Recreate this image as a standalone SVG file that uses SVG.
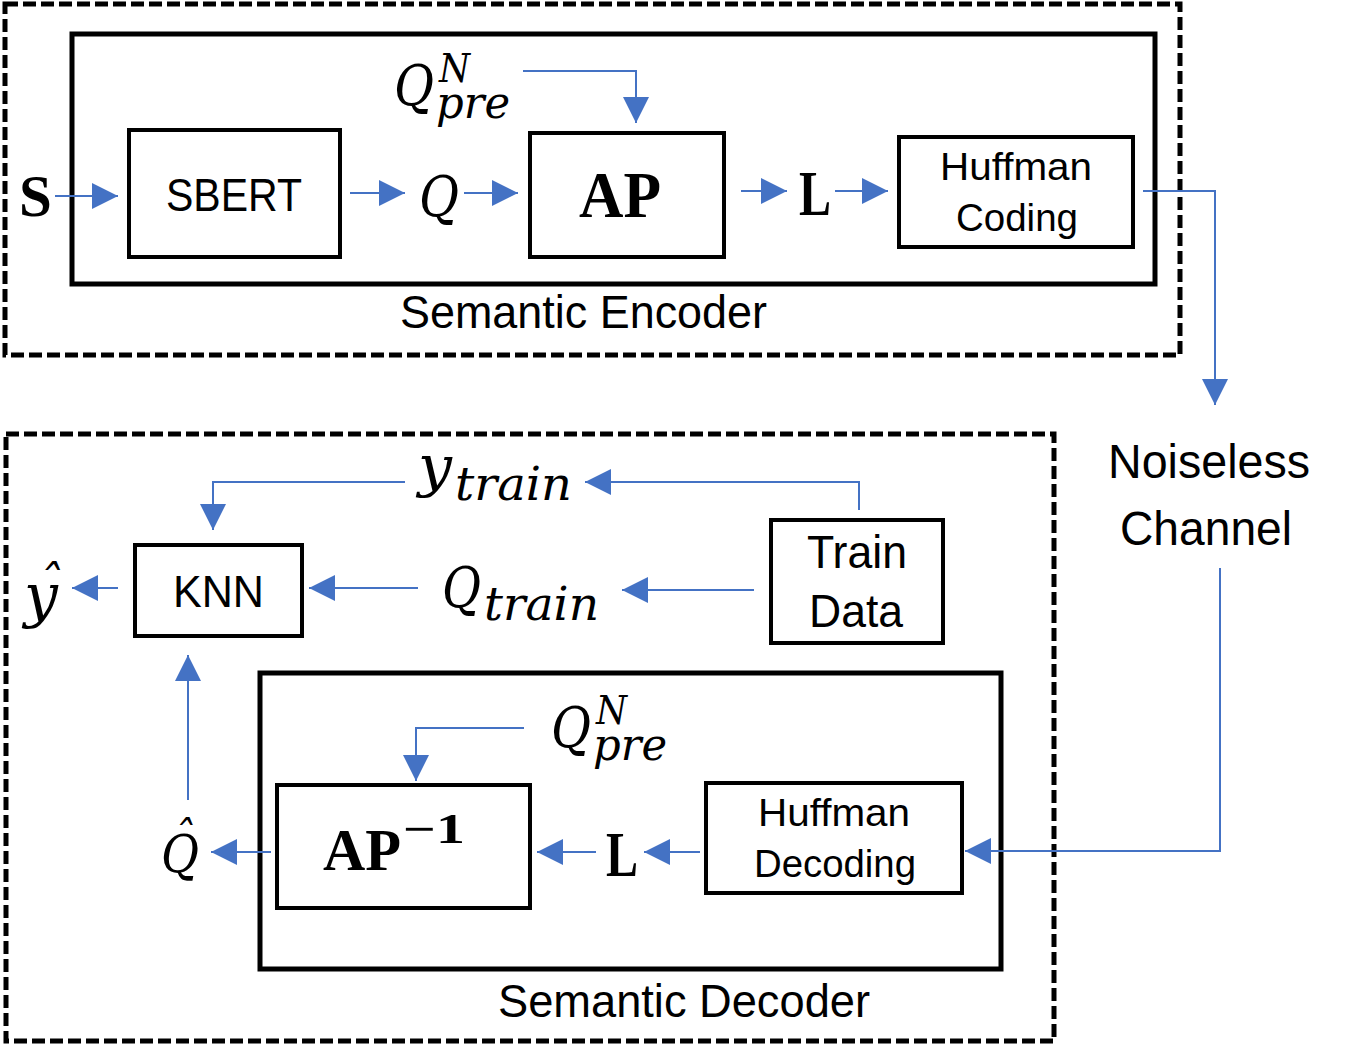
<svg xmlns="http://www.w3.org/2000/svg" width="1358" height="1062" viewBox="0 0 1358 1062">
<style>
.bg{fill:#fff}
.box{fill:none;stroke:#000;stroke-width:4}
.cont{fill:none;stroke:#000;stroke-width:5}
.dash{fill:none;stroke:#000;stroke-width:5;stroke-dasharray:13 5}
.conn{fill:none;stroke:#4472C4;stroke-width:2;marker-end:url(#ah)}
.lbl{font-family:"Liberation Sans",Arial,sans-serif;fill:#000;text-anchor:middle}
.math{font-family:"DejaVu Serif",serif;font-style:italic;fill:#000}
.bold{font-family:"Liberation Serif",serif;font-weight:bold;fill:#000}
</style>
<defs>
<marker id="ah" markerUnits="userSpaceOnUse" viewBox="0 0 26 26" markerWidth="26" markerHeight="26" refX="26" refY="13" orient="auto">
<path d="M0,0 L26,13 L0,26 Z" fill="#4472C4"/>
</marker>
</defs>
<rect class="bg" x="0" y="0" width="1358" height="1062"/>

<g id="semantic-encoder">
<rect class="dash" x="5" y="4" width="1175" height="351"/>
<rect class="cont" x="72" y="34" width="1083" height="250"/>
<text class="lbl" x="583.5" y="328" font-size="46" textLength="367" lengthAdjust="spacingAndGlyphs">Semantic Encoder</text>
</g>

<g id="input-S"><text class="bold" x="19" y="216" font-size="59">S</text></g>

<g id="sbert">
<rect class="box" x="129" y="130" width="211" height="127"/>
<text class="lbl" x="234" y="211" font-size="46" textLength="136" lengthAdjust="spacingAndGlyphs">SBERT</text>
</g>

<g id="Q-top"><text class="math" x="419" y="216" font-size="56" textLength="40" lengthAdjust="spacingAndGlyphs">Q</text></g>

<g id="Qpre-top">
<text class="math"><tspan x="394" y="105" font-size="56" textLength="40" lengthAdjust="spacingAndGlyphs">Q</tspan><tspan x="439" y="82" font-size="40" textLength="31" lengthAdjust="spacingAndGlyphs">N</tspan><tspan x="436" y="118" font-size="44" textLength="74" lengthAdjust="spacingAndGlyphs">pre</tspan></text>
</g>

<g id="ap">
<rect class="box" x="530" y="133" width="194" height="124"/>
<text class="bold" x="579" y="217" font-size="66" textLength="82" lengthAdjust="spacingAndGlyphs">AP</text>
</g>

<g id="L-top"><text class="bold" x="799" y="215" font-size="64" textLength="32" lengthAdjust="spacingAndGlyphs">L</text></g>

<g id="huffman-coding">
<rect class="box" x="899" y="137" width="234" height="110"/>
<text class="lbl" x="1016" y="180" font-size="39" textLength="152" lengthAdjust="spacingAndGlyphs">Huffman</text>
<text class="lbl" x="1017" y="231" font-size="39" textLength="122" lengthAdjust="spacingAndGlyphs">Coding</text>
</g>

<g id="noiseless-channel">
<text class="lbl" x="1209" y="478" font-size="49" textLength="202" lengthAdjust="spacingAndGlyphs">Noiseless</text>
<text class="lbl" x="1206" y="545" font-size="49" textLength="172" lengthAdjust="spacingAndGlyphs">Channel</text>
</g>

<g id="semantic-decoder">
<rect class="dash" x="6" y="434" width="1048" height="607"/>
<rect class="cont" x="260" y="673" width="741" height="296"/>
<text class="lbl" x="684" y="1017" font-size="46" textLength="372" lengthAdjust="spacingAndGlyphs">Semantic Decoder</text>
</g>

<g id="train-data">
<rect class="box" x="771" y="520" width="172" height="123"/>
<text class="lbl" x="857" y="568" font-size="46" textLength="100" lengthAdjust="spacingAndGlyphs">Train</text>
<text class="lbl" x="856" y="627" font-size="46" textLength="94" lengthAdjust="spacingAndGlyphs">Data</text>
</g>

<g id="y-train">
<text class="math"><tspan x="418" y="486" font-size="56" textLength="34" lengthAdjust="spacingAndGlyphs">y</tspan><tspan x="455" y="500" font-size="46" textLength="117" lengthAdjust="spacingAndGlyphs">train</tspan></text>
</g>

<g id="Q-train">
<text class="math"><tspan x="442" y="607" font-size="56" textLength="39" lengthAdjust="spacingAndGlyphs">Q</tspan><tspan x="484" y="620" font-size="46" textLength="115" lengthAdjust="spacingAndGlyphs">train</tspan></text>
</g>

<g id="knn">
<rect class="box" x="135" y="545" width="167" height="91"/>
<text class="lbl" x="218.5" y="607" font-size="45" textLength="91" lengthAdjust="spacingAndGlyphs">KNN</text>
</g>

<g id="y-hat">
<text class="math"><tspan x="24" y="616" font-size="60">y</tspan><tspan x="49" y="600" font-size="48" text-anchor="middle">ˆ</tspan></text>
</g>

<g id="Qpre-bottom">
<text class="math"><tspan x="551" y="747" font-size="56" textLength="40" lengthAdjust="spacingAndGlyphs">Q</tspan><tspan x="596" y="724" font-size="40" textLength="31" lengthAdjust="spacingAndGlyphs">N</tspan><tspan x="593" y="760" font-size="44" textLength="74" lengthAdjust="spacingAndGlyphs">pre</tspan></text>
</g>

<g id="ap-inverse">
<rect class="box" x="277" y="785" width="253" height="123"/>
<text class="bold"><tspan x="323" y="870" font-size="60" textLength="78" lengthAdjust="spacingAndGlyphs">AP</tspan><tspan x="403" y="843" font-size="42" textLength="62" lengthAdjust="spacingAndGlyphs">−1</tspan></text>
</g>

<g id="L-bottom"><text class="bold" x="606" y="876" font-size="64" textLength="32" lengthAdjust="spacingAndGlyphs">L</text></g>

<g id="huffman-decoding">
<rect class="box" x="706" y="783" width="256" height="110"/>
<text class="lbl" x="834" y="826" font-size="39" textLength="152" lengthAdjust="spacingAndGlyphs">Huffman</text>
<text class="lbl" x="835" y="877" font-size="39" textLength="162" lengthAdjust="spacingAndGlyphs">Decoding</text>
</g>

<g id="Q-hat">
<text class="math"><tspan x="161" y="872" font-size="52" textLength="38" lengthAdjust="spacingAndGlyphs">Q</tspan><tspan x="183" y="852" font-size="42" text-anchor="middle">ˆ</tspan></text>
</g>

<g id="connectors">
<path class="conn" d="M55,196 H118"/>
<path class="conn" d="M350,193 H405"/>
<path class="conn" d="M464,193 H518"/>
<path class="conn" d="M523,71 H636 V123"/>
<path class="conn" d="M741,191 H787"/>
<path class="conn" d="M835,191 H888"/>
<path class="conn" d="M1143,191 H1215 V405"/>
<path class="conn" d="M1220,568 V851 H965"/>
<path class="conn" d="M700,852 H644"/>
<path class="conn" d="M596,852 H537"/>
<path class="conn" d="M271,852 H211"/>
<path class="conn" d="M524,728 H416 V781"/>
<path class="conn" d="M188,800 V655"/>
<path class="conn" d="M859,510 V482 H585"/>
<path class="conn" d="M405,482 H213 V530"/>
<path class="conn" d="M754,590 H622"/>
<path class="conn" d="M418,588 H309"/>
<path class="conn" d="M118,588 H72"/>
</g>
</svg>
